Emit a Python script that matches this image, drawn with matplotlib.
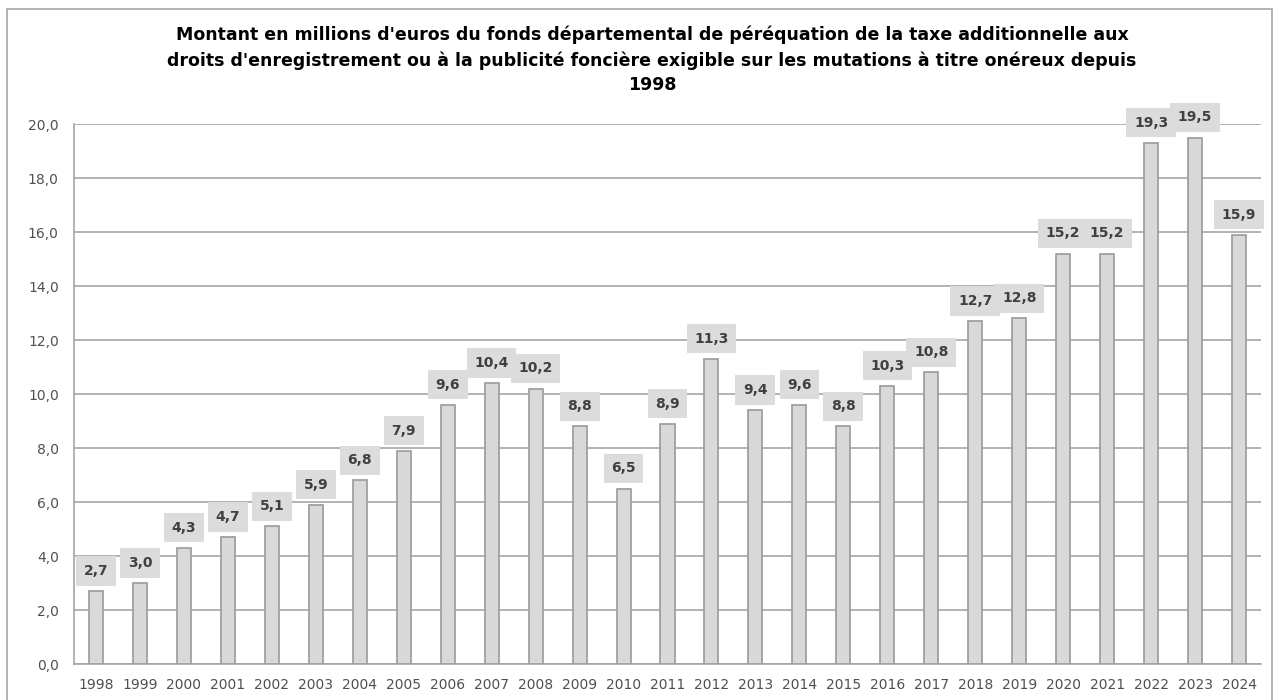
import numpy as np
import matplotlib.pyplot as plt
from matplotlib.patches import Rectangle

plt.rcParams['font.family'] = ['DejaVu Sans']

years = [str(y) for y in range(1998, 2025)]
montants = [2.7, 3.0, 4.3, 4.7, 5.1, 5.9, 6.8, 7.9, 9.6, 10.4, 10.2, 8.8, 6.5, 8.9,
            11.3, 9.4, 9.6, 8.8, 10.3, 10.8, 12.7, 12.8, 15.2, 15.2, 19.3, 19.5, 15.9]
yticks = [0, 2, 4, 6, 8, 10, 12, 14, 16, 18, 20]

title = ("Montant en millions d'euros du fonds départemental de péréquation de la taxe additionnelle aux\n"
         "droits d'enregistrement ou à la publicité foncière exigible sur les mutations à titre onéreux depuis\n"
         "1998")

W, H = 1273, 700
fig = plt.figure(figsize=(W / 100, H / 100), dpi=100)
fig.patch.set_facecolor('white')

# outer frame (bottom edge falls off the picture)
fig.add_artist(Rectangle((7 / W, -0.02), (1272 - 7) / W, 1.02 - 9 / H,
                         transform=fig.transFigure, fill=False,
                         edgecolor='#a6a6a6', lw=1.2))

ax = fig.add_axes([74 / W, 1 - 664 / H, (1261 - 74) / W, (664 - 124) / H])

x = np.arange(len(years))
ax.bar(x, montants, width=0.32, color='#d9d9d9', edgecolor='#9a9a9a', lw=1.2, zorder=3)

for xi, v in zip(x, montants):
    ax.annotate(f"{v:.1f}".replace('.', ','), (xi, v), xytext=(0, 14.5), textcoords='offset points',
                ha='center', va='center', fontsize=10, fontweight='bold', color='#404040',
                bbox=dict(boxstyle='square,pad=0.55', fc='#dcdcdc', ec='none'), zorder=4)

ax.set_xlim(-0.5, len(years) - 0.5)
ax.set_ylim(0, 20)
ax.set_yticks(yticks)
ax.set_yticklabels([f"{t:.1f}".replace('.', ',') for t in yticks])
ax.set_xticks(x)
ax.set_xticklabels(years)
ax.tick_params(axis='both', length=0, labelsize=10, colors='#505050')
ax.tick_params(axis='y', pad=11)
ax.tick_params(axis='x', pad=10)

ax.grid(axis='y', color='#a6a6a6', lw=1.2, zorder=0)
ax.set_axisbelow(True)
for s in ['top', 'right']:
    ax.spines[s].set_visible(False)
for s in ['left', 'bottom']:
    ax.spines[s].set_color('#a6a6a6')
    ax.spines[s].set_linewidth(1.2)

fig.text(652 / W, 1 - 26 / H, title, ha='center', va='top', fontsize=12.5,
         fontweight='bold', color='black', linespacing=1.45)

fig.savefig('out.png', dpi=100, facecolor='white')
